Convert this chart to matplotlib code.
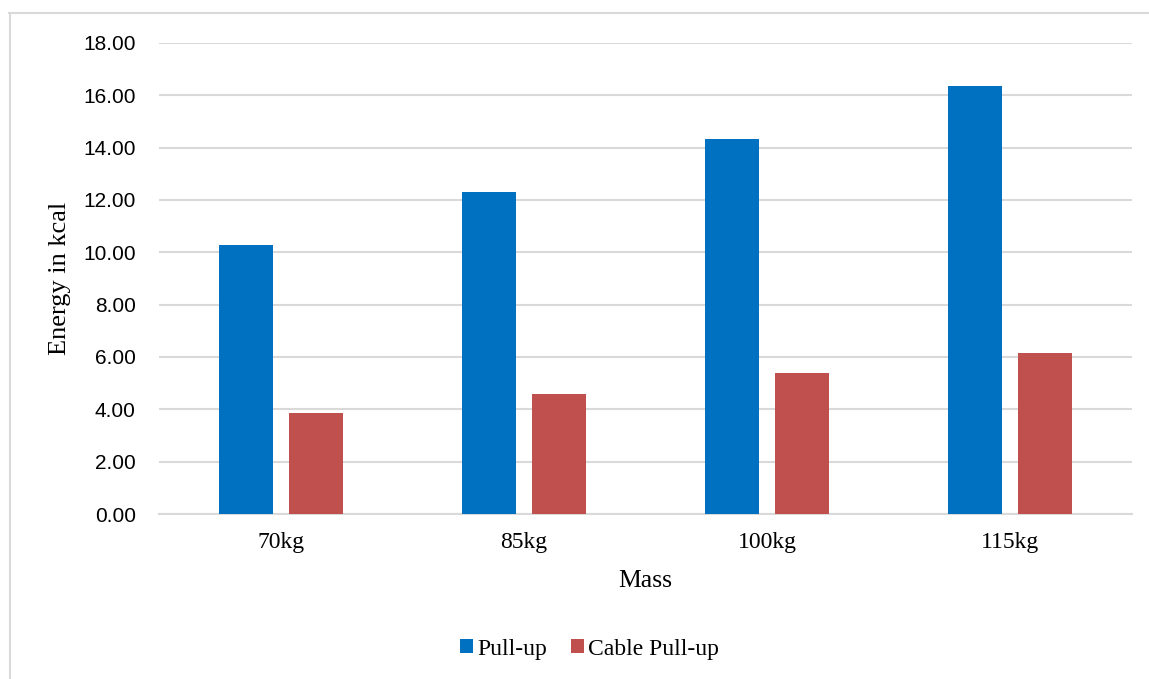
import numpy as np
import matplotlib.pyplot as plt
from matplotlib.lines import Line2D

categories = ["70kg", "85kg", "100kg", "115kg"]
pull_up = [10.28, 12.30, 14.32, 16.35]
cable_pull_up = [3.86, 4.59, 5.37, 6.14]
yticks = np.arange(0, 18.01, 2)

serif = "Liberation Serif"
sans = "Liberation Sans"

fig = plt.figure(figsize=(11.49, 6.79), dpi=100)
ax = fig.add_axes([0.1388, 0.2430, 0.8460, 0.6937])

x = np.arange(len(categories))
w = 0.224
ax.bar(x - 0.143, pull_up, w, color="#0070C0", label="Pull-up", zorder=3)
ax.bar(x + 0.143, cable_pull_up, w, color="#C0504D", label="Cable Pull-up", zorder=3)

ax.set_xlim(-0.5, len(categories) - 0.5)
ax.set_ylim(0, 18)
ax.set_yticks(yticks)
ax.set_yticklabels([f"{v:.2f}" for v in yticks], fontfamily=sans, fontsize=15)
ax.set_xticks(x)
ax.set_xticklabels(categories, fontfamily=serif, fontsize=17)
ax.tick_params(axis="both", length=0, colors="#000000")
ax.tick_params(axis="y", pad=17)
ax.tick_params(axis="x", pad=13)

ax.yaxis.grid(True, color="#d9d9d9", linewidth=1.5, zorder=0)
for s in ["top", "right", "left"]:
    ax.spines[s].set_visible(False)
ax.spines["bottom"].set_color("#d9d9d9")
ax.spines["bottom"].set_linewidth(1.5)

ax.set_xlabel("Mass", fontfamily=serif, fontsize=18.5)
ax.xaxis.set_label_coords(0.5, -0.118)
ax.set_ylabel("Energy in kcal", fontfamily=serif, fontsize=19)
ax.yaxis.set_label_coords(-0.091, 0.5)

leg = fig.legend(loc="center", bbox_to_anchor=(0.513, 0.044), ncol=2, frameon=False,
                 prop={"family": serif, "size": 17}, handlelength=0.55, handleheight=0.55,
                 handletextpad=0.2, columnspacing=1.0)

# chart border (top and left visible)
fig.add_artist(Line2D([9 / 1149, 1], [1 - 13 / 679, 1 - 13 / 679], color="#d9d9d9", lw=1.5))
fig.add_artist(Line2D([9.5 / 1149, 9.5 / 1149], [0, 1 - 13 / 679], color="#d9d9d9", lw=1.5))

fig.savefig("out.png", dpi=100)
